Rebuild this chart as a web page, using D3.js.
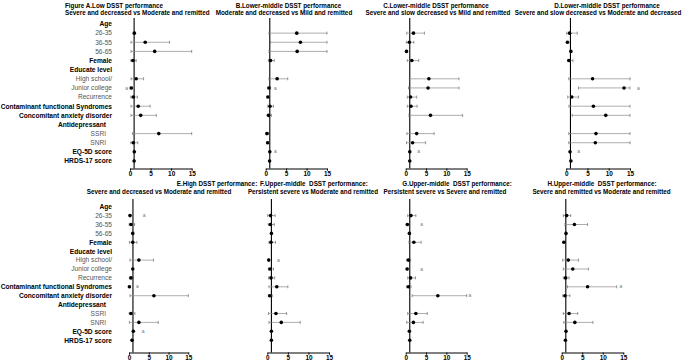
<!DOCTYPE html>
<html>
<head>
<meta charset="utf-8">
<script src="https://cdn.jsdelivr.net/npm/d3@7"></script>
<style>
    body { margin: 0; background: #fff; }
    svg { display: block; font-family: "Liberation Sans", Arial, sans-serif; }
    .axis path, .axis line { stroke: #000; stroke-width: 1; }
    .axis text { font-size: 6.4px; font-weight: bold; fill: #000; }
</style>
</head>
<body>
<div id="chart"></div>
<script>
// Row labels of the forest plots (same for all 8 panels)
const rowLabels = ["Age", "26-35", "36-55", "56-65", "Female", "Educate level", "High school/",
    "Junior college", "Recurrence", "Contaminant functional Syndromes", "Concomitant anxiety disorder",
    "Antidepressant", "SSRI", "SNRI", "EQ-5D score", "HRDS-17 score"];
const headerRows = ["Age", "Female", "Educate level", "Contaminant functional Syndromes",
    "Concomitant anxiety disorder", "Antidepressant", "EQ-5D score", "HRDS-17 score"];
// rows that carry an estimate (in this order in every value array)
const estRows = ["26-35", "36-55", "56-65", "Female", "High school/", "Junior college", "Recurrence",
    "Contaminant functional Syndromes", "Concomitant anxiety disorder", "SSRI", "SNRI",
    "EQ-5D score", "HRDS-17 score"];
const ticks = [0, 5, 10, 15];

// Panel A
const orA = [1.05, 3.7, 6.0, 0.7, 1.5, 0.3, 0.8, 2.0, 2.6, 7.0, 0.8, 1.05, 1.0];
const loA = [0.9, 0.25, 0.25, 0.2, 0.25, 0.1, 0.2, 0.25, 0.25, 0.6, 0.2, 0.95, 0.95];
const hiA = [1.2, 9.6, 15, 1.5, 3.3, 0.6, 1.8, 4.9, 6.4, 15, 1.9, 1.1, 1.05];
const sigA = [["Junior college", -0.8]];
// Panel B
const orB = [7.6, 8.5, 7.7, 1.2, 2.8, 0.8, 0.55, 1.05, 0.7, 0.3, 0.5, 1.0, 0.95];
const loB = [0.8, 1.05, 0.8, 0.65, 0.8, 0.5, 0.3, 0.5, 0.4, 0.1, 0.2, 0.95, 0.9];
const hiB = [15, 15, 15, 2.1, 5.4, 1.2, 0.9, 1.9, 1.4, 0.7, 0.9, 1.05, 1.0];
const sigB = [["Junior college", 2.35], ["EQ-5D score", 2.35]];
// Panel C
const orC = [1.9, 0.9, 0.2, 1.5, 5.7, 5.5, 1.2, 1.3, 6.1, 2.7, 1.7, 1.0, 1.0];
const loC = [0.25, 0.15, 0.1, 0.4, 0.9, 0.7, 0.4, 0.4, 0.8, 0.3, 0.2, 0.95, 0.95];
const hiC = [4.6, 2.0, 0.4, 3.2, 13.1, 13.1, 2.7, 2.8, 14.0, 7.0, 4.9, 1.05, 1.05];
const sigC = [["EQ-5D score", 3.2]];
// Panel D
const orD = [0.8, 0.3, 1.1, 0.65, 6.2, 13.6, 1.3, 6.4, 9.3, 7.0, 6.85, 0.9, 1.1];
const loD = [0.1, 0.05, 1.0, 0.3, 0.6, 2.9, 0.35, 0.65, 1.4, 0.6, 0.6, 0.85, 1.05];
const hiD = [2.6, 0.6, 1.2, 1.6, 15, 15, 2.9, 15, 15, 15, 15, 0.95, 1.15];
const sigD = [["Junior college", 17], ["EQ-5D score", 2.9]];
// Panel E
const orE = [0.25, 0.5, 0.95, 0.95, 2.5, 0.95, 0.5, 0.1, 6.3, 0.5, 2.5, 1.1, 0.75];
const loE = [0.1, 0.05, 0.9, 0.1, 0.25, 0.9, 0.1, 0.05, 0.25, 0.05, 0.1, 1.05, 0.7];
const hiE = [0.5, 1.4, 1.0, 2.0, 6.2, 1.0, 1.1, 0.2, 15, 1.5, 7.4, 1.15, 0.8];
const sigE = [["26-35", 3.8], ["Contaminant functional Syndromes", 2.1], ["EQ-5D score", 3.6]];
// Panel F
const orF = [0.8, 0.75, 1.0, 0.9, 0.35, 0.65, 0.9, 2.3, 0.6, 2.1, 3.4, 1.0, 1.0];
const loF = [0.1, 0.25, 0.95, 0.4, 0.25, 0.25, 0.3, 0.4, 0.25, 0.3, 0.4, 0.95, 0.95];
const hiF = [1.9, 1.7, 1.05, 2.0, 0.5, 1.5, 1.8, 5.0, 1.2, 4.7, 8.0, 1.05, 1.05];
const sigF = [["High school/", 2.7]];
// Panel G
const orG = [1.3, 0.4, 0.9, 2.0, 0.65, 0.35, 1.2, 0.65, 7.9, 2.5, 1.9, 0.9, 1.0];
const loG = [0.5, 0.25, 0.85, 0.8, 0.25, 0.2, 0.5, 0.25, 1.6, 0.5, 0.25, 0.85, 0.95];
const hiG = [2.5, 0.6, 0.95, 3.8, 1.2, 0.5, 2.4, 1.3, 15, 5.3, 4.3, 0.95, 1.05];
const sigG = [["36-55", 3.9], ["Junior college", 3.9], ["Concomitant anxiety disorder", 15.8]];
// Panel H
const orH = [1.2, 3.1, 1.05, 0.55, 1.6, 2.7, 0.95, 6.3, 0.8, 1.8, 3.2, 1.05, 0.9];
const loH = [0.4, 0.8, 1.0, 0.3, 0.25, 0.4, 0.4, 1.4, 0.25, 0.4, 0.5, 1.0, 0.85];
const hiH = [2.2, 6.3, 1.1, 0.9, 4.1, 6.5, 1.8, 13.4, 2.0, 3.9, 7.6, 1.1, 0.95];
const sigH = [["Contaminant functional Syndromes", 14.4]];

const titles = [
    ["Figure A.Low DSST performance", "Severe and decreased vs Moderate and remitted"],
    ["B.Lower-middle DSST performance", "Moderate and decreased vs Mild and remitted"],
    ["C.Lower-middle DSST performance", "Severe and slow decreased vs Mild and remitted"],
    ["D.Lower-middle DSST performance", "Severe and slow decreased vs Moderate and decreased"],
    ["E.High DSST performance:", "Severe and decreased vs Moderate and remitted"],
    ["F.Upper-middle  DSST performance:", "Persistent severe vs Moderate and remitted"],
    ["G.Upper-middle  DSST performance:", "Persistent severe vs Severe and remitted"],
    ["H.Upper-middle  DSST performance:", "Severe and remitted vs Moderate and remitted"]
];

const panels = [
    { or: orA, lo: loA, hi: hiA, sig: sigA },
    { or: orB, lo: loB, hi: hiB, sig: sigB },
    { or: orC, lo: loC, hi: hiC, sig: sigC },
    { or: orD, lo: loD, hi: hiD, sig: sigD },
    { or: orE, lo: loE, hi: hiE, sig: sigE },
    { or: orF, lo: loF, hi: hiF, sig: sigF },
    { or: orG, lo: loG, hi: hiG, sig: sigG },
    { or: orH, lo: loH, hi: hiH, sig: sigH }
];

// Layout of each panel (pixel placement)
const layout = [
    { x0: 130, x1: 191.7, row: 0, tx: 65, sx: 65, anchor: "start", labels: true },
    { x0: 265.7, x1: 327, row: 0, tx: 288.5, sx: 284, anchor: "middle" },
    { x0: 405.7, x1: 466.7, row: 0, tx: 436, sx: 438, anchor: "middle" },
    { x0: 566.2, x1: 630, row: 0, tx: 607, sx: 598, anchor: "middle" },
    { x0: 129, x1: 188.3, row: 1, tx: 217, sx: 159, anchor: "middle", labels: true },
    { x0: 267.3, x1: 329, row: 1, tx: 314, sx: 313, anchor: "middle" },
    { x0: 405.7, x1: 466.7, row: 1, tx: 457, sx: 445, anchor: "middle" },
    { x0: 561.7, x1: 623.3, row: 1, tx: 602, sx: 601.5, anchor: "middle" }
];
const rowsGeom = [
    { first: 24, last: 161, axisY: 168.5, lineTop: 18, titleY: 7.5, subY: 15, tickPad: 0.5 },
    { first: 206.7, last: 340.2, axisY: 352.5, lineTop: 199, titleY: 186, subY: 193.5, tickPad: 0.8 }
];

const svg = d3.select("#chart").append("svg")
    .attr("width", 685)
    .attr("height", 360);

svg.append("rect").attr("width", 685).attr("height", 360).attr("fill", "#fff");

panels.forEach((p, i) => {
    let L = layout[i];
    let G = rowsGeom[L.row];

    let x = d3.scaleLinear().domain([0, 15]).range([L.x0, L.x1]);
    let y = d3.scalePoint().domain(rowLabels).range([G.first, G.last]);

    let g = svg.append("g");

    // Titles
    g.append("text")
        .attr("x", L.tx).attr("y", G.titleY)
        .attr("text-anchor", L.anchor)
        .style("font-size", "6.3px").style("font-weight", "bold")
        .style("white-space", "pre")
        .text(titles[i][0]);
    g.append("text")
        .attr("x", L.sx).attr("y", G.subY)
        .attr("text-anchor", L.anchor)
        .style("font-size", "6.3px").style("font-weight", "bold")
        .text(titles[i][1]);

    // Row labels (only first column)
    if (L.labels) {
        g.selectAll(".rowlab")
            .data(rowLabels)
            .enter().append("text")
            .attr("class", "rowlab")
            .attr("x", d => ["Antidepressant", "SSRI", "SNRI"].includes(d) ? 106 : 112)
            .attr("y", d => y(d) + 2.3)
            .attr("text-anchor", "end")
            .style("font-size", "6.6px")
            .style("font-weight", d => headerRows.includes(d) ? "bold" : "normal")
            .attr("fill", d => headerRows.includes(d) ? "#000" : "#555")
            .text(d => d);
    }

    // Axis
    g.append("g")
        .attr("class", "axis")
        .attr("transform", `translate(0, ${G.axisY})`)
        .call(d3.axisBottom(x).tickValues(ticks).tickSize(2.2).tickPadding(G.tickPad).tickSizeOuter(0));

    // Reference line at OR = 1
    g.append("line")
        .attr("x1", x(1)).attr("x2", x(1))
        .attr("y1", G.lineTop).attr("y2", G.axisY)
        .attr("stroke", "#000")
        .attr("stroke-width", 1.1);

    let data = estRows.map((r, k) => ({ row: r, or: p.or[k], lo: p.lo[k], hi: p.hi[k] }));

    // Whiskers
    g.selectAll(".ci")
        .data(data)
        .enter().append("line")
        .attr("class", "ci")
        .attr("x1", d => x(d.lo)).attr("x2", d => x(d.hi))
        .attr("y1", d => y(d.row)).attr("y2", d => y(d.row))
        .attr("stroke", "#8a8a8a")
        .attr("stroke-width", 0.7);

    ["lo", "hi"].forEach(end => {
        g.selectAll(".cap-" + end)
            .data(data)
            .enter().append("line")
            .attr("class", "cap-" + end)
            .attr("x1", d => x(d[end])).attr("x2", d => x(d[end]))
            .attr("y1", d => y(d.row) - 1.5).attr("y2", d => y(d.row) + 1.5)
            .attr("stroke", "#555")
            .attr("stroke-width", 0.6);
    });

    // Points
    g.selectAll(".pt")
        .data(data)
        .enter().append("circle")
        .attr("class", "pt")
        .attr("cx", d => x(d.or))
        .attr("cy", d => y(d.row))
        .attr("r", 1.8)
        .attr("fill", "#000");

    // significance marks
    g.selectAll(".sig")
        .data(p.sig)
        .enter().append("text")
        .attr("class", "sig")
        .attr("x", d => x(d[1]))
        .attr("y", d => y(d[0]) + 1.6)
        .attr("text-anchor", "middle")
        .style("font-size", "5px")
        .attr("fill", "#777")
        .text("a");
});
</script>
</body>
</html>
